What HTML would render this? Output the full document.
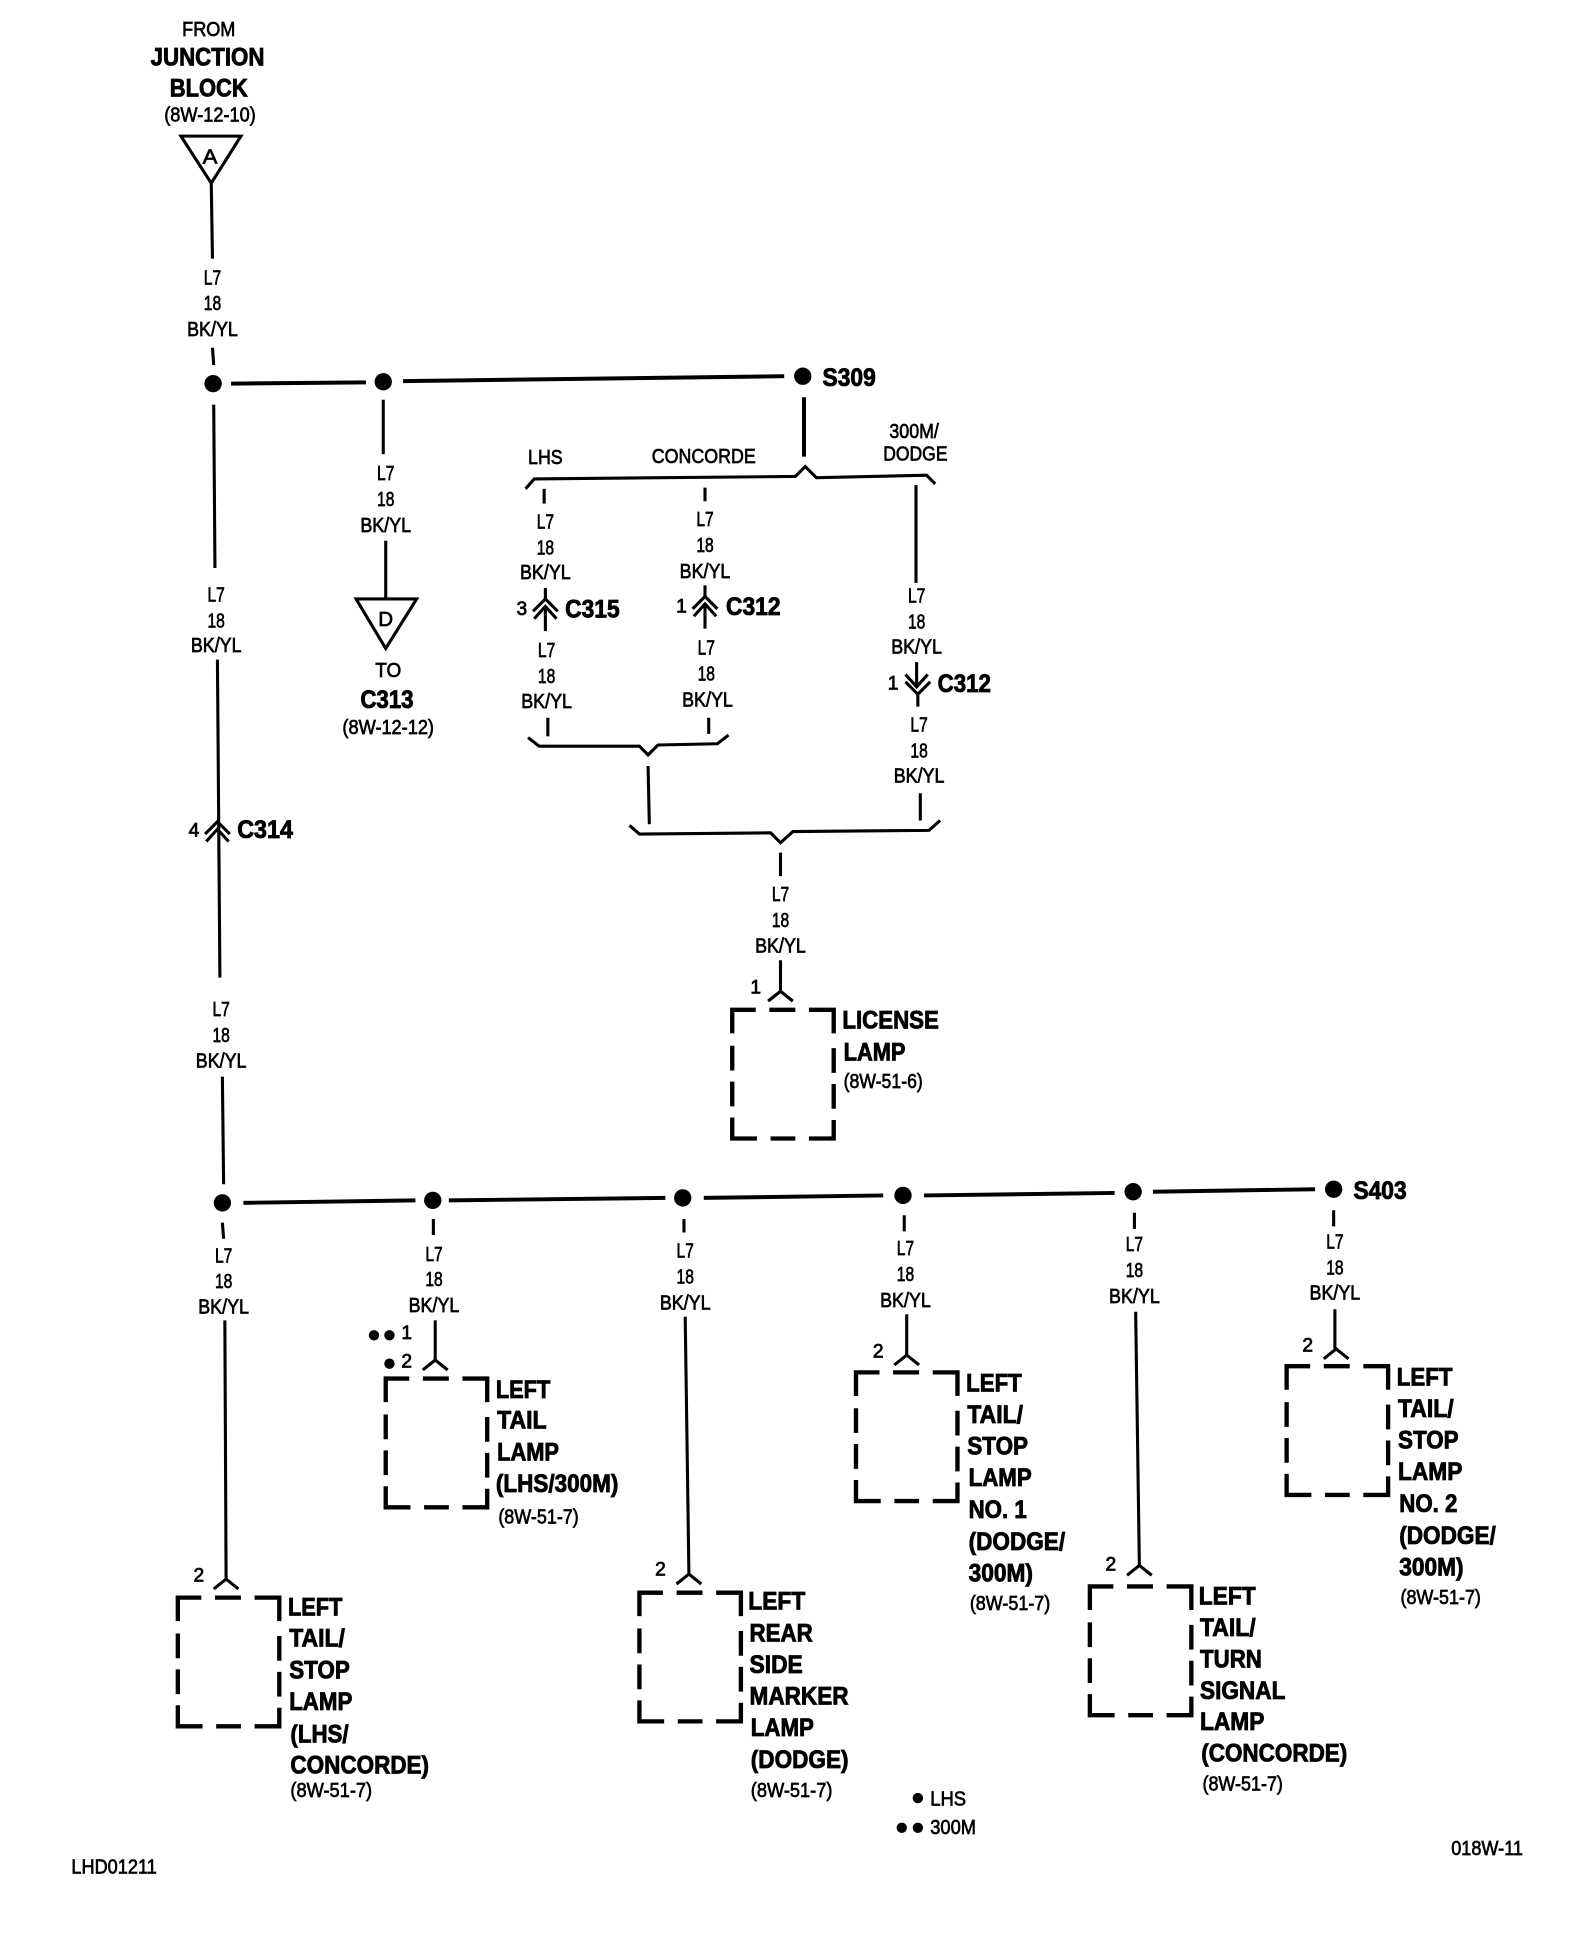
<!DOCTYPE html>
<html><head><meta charset="utf-8"><title>Diagram</title>
<style>
html,body{margin:0;padding:0;background:#fff}
svg{display:block}
text{font-family:"Liberation Sans",sans-serif;fill:#000;stroke:#000}
.r{font-size:16.5px;stroke-width:.55px}
.b{font-size:20.5px;font-weight:bold;stroke-width:.7px}
.n{font-size:15.5px;stroke-width:.6px}
.m{text-anchor:middle}
.w{fill:none;stroke:#000;stroke-width:2.500;stroke-linejoin:miter}
.t{fill:none;stroke:#000;stroke-width:3.200}
.box{fill:none;stroke:#000;stroke-width:3.500}
</style></head><body>
<svg xmlns="http://www.w3.org/2000/svg" width="1584" height="1942" viewBox="0 0 1280 1569.29">
<rect width="1280" height="1570" fill="#fff" stroke="none"/>
<defs>
<path id="bx" class="box" d="M0 19V0H19M30 0H51M62 0H82V19M82 31V51M82 60V80M82 89V104H62M51 104H31M20 104H0V87M0 78V58M0 49V29"/>
<path id="cy" class="w" d="M-10 8L0 0L10 8"/>
</defs>
<g transform="translate(.7,0)">

<!-- top label -->
<text class="r m" x="168" y="29" textLength="43" lengthAdjust="spacingAndGlyphs">FROM</text>
<text class="b m" x="167" y="53" textLength="92" lengthAdjust="spacingAndGlyphs">JUNCTION</text>
<text class="b m" x="168" y="78" textLength="63" lengthAdjust="spacingAndGlyphs">BLOCK</text>
<text class="r m" x="169" y="98" textLength="74" lengthAdjust="spacingAndGlyphs">(8W-12-10)</text>
<path class="w" d="M145.500 110H194L170 148Z"/>
<text class="r m" x="169" y="132" textLength="12" lengthAdjust="spacingAndGlyphs">A</text>
<path class="w" d="M170 148L171 209M171 281L172 295"/>

<!-- top bus -->
<path class="t" d="M186 310L295 309M325 308L633 304"/>
<circle cx="171.500" cy="310" r="7"/><circle cx="309" cy="308.500" r="7"/><circle cx="648" cy="304" r="7"/>
<text class="b" x="664" y="312" textLength="43" lengthAdjust="spacingAndGlyphs">S309</text>

<!-- main vertical -->
<path class="w" d="M172 327L173 459M175 533L177 790M179 870L180 957M309 323V367M311 437V484"/>
<path class="w" d="M165 674L175 664L185 674M166 680L175 670L184 680"/>
<text class="n m" x="156" y="676">4</text>
<text class="b" x="191" y="677" textLength="45" lengthAdjust="spacingAndGlyphs">C314</text>

<!-- D triangle -->
<path class="w" d="M287 484H336L311 524Z"/>
<text class="r m" x="311" y="506" textLength="12" lengthAdjust="spacingAndGlyphs">D</text>
<text class="r m" x="313" y="547" textLength="21" lengthAdjust="spacingAndGlyphs">TO</text>
<text class="b m" x="312" y="572" textLength="43" lengthAdjust="spacingAndGlyphs">C313</text>
<text class="r m" x="313" y="593" textLength="74" lengthAdjust="spacingAndGlyphs">(8W-12-12)</text>

<!-- braces -->
<path class="t" d="M649 321V369"/>
<path class="w" d="M424 395L431 387L642 385L650 377L659 386L748 384L755 391"/>
<text class="r m" x="440" y="375" textLength="28" lengthAdjust="spacingAndGlyphs">LHS</text>
<text class="r m" x="568" y="374" textLength="84" lengthAdjust="spacingAndGlyphs">CONCORDE</text>
<text class="r m" x="738" y="354" textLength="40" lengthAdjust="spacingAndGlyphs">300M/</text>
<text class="r m" x="739" y="372" textLength="52" lengthAdjust="spacingAndGlyphs">DODGE</text>
<path class="w" d="M439 395V407M569 394V405M739.500 392V471"/>

<!-- C315 -->
<path class="w" d="M440 475V484M430 494L440 484L450 494M431 500L440 490L449 500M440 490V510"/>
<text class="n m" x="421" y="497">3</text>
<text class="b" x="456" y="499" textLength="44" lengthAdjust="spacingAndGlyphs">C315</text>
<!-- C312 left -->
<path class="w" d="M569 473V482M559 492L569 482L579 492M560 498L569 488L578 498M569 488V508"/>
<text class="n m" x="550" y="495">1</text>
<text class="b" x="586" y="497" textLength="44" lengthAdjust="spacingAndGlyphs">C312</text>
<!-- C312 right -->
<path class="w" d="M740 535V555M731 545L740 555L749 545M731 551L741 561L751 551M741 561V571"/>
<text class="n m" x="721" y="557">1</text>
<text class="b" x="757" y="559" textLength="43" lengthAdjust="spacingAndGlyphs">C312</text>

<!-- lower braces -->
<path class="w" d="M442 580V595M572 580V593"/>
<path class="w" d="M426 596L435 603L516 603L523 610L531 602L579 601L588 594"/>
<path class="w" d="M523 619L524 666M743 641V663"/>
<path class="w" d="M508 667L516 674L622 673L630 681L640 672L750 671L759 663"/>
<path class="w" d="M630 689V708M630 776V800"/>

<!-- license lamp -->
<use href="#cy" x="630" y="801"/>
<text class="n m" x="610" y="803">1</text>
<use href="#bx" x="591" y="816"/>
<text class="b" x="680" y="831" textLength="78" lengthAdjust="spacingAndGlyphs">LICENSE</text>
<text class="b" x="681" y="857" textLength="50" lengthAdjust="spacingAndGlyphs">LAMP</text>
<text class="r" x="681" y="879" textLength="64" lengthAdjust="spacingAndGlyphs">(8W-51-6)</text>

<!-- bottom bus -->
<path class="t" d="M196 972L335 970M362 970L537 968M568 968L713 966M746 966L900 964M931 963L1062 961"/>
<circle cx="179" cy="972" r="7"/><circle cx="349" cy="970" r="7"/><circle cx="551" cy="968" r="7"/><circle cx="729" cy="966" r="7"/><circle cx="915" cy="963" r="7"/><circle cx="1077" cy="961" r="7"/>
<text class="b" x="1093" y="969" textLength="43" lengthAdjust="spacingAndGlyphs">S403</text>

<path class="w" d="M179 988L180 1001M181 1067L182 1276M349.500 985V998M351 1067V1099M552 985V996M553 1064L556 1272M730 982V995M732 1062V1095M916 980V993M917 1060L920 1265M1077 978V991M1078 1058V1090"/>
<use href="#cy" x="182" y="1276"/><use href="#cy" x="351" y="1099"/><use href="#cy" x="556" y="1272"/><use href="#cy" x="732" y="1095"/><use href="#cy" x="920" y="1265"/><use href="#cy" x="1079" y="1090"/>

<!-- wire labels -->
<text class="r m" x="171" y="230" textLength="14" lengthAdjust="spacingAndGlyphs">L7</text><text class="r m" x="171" y="250.500" textLength="14" lengthAdjust="spacingAndGlyphs">18</text><text class="r m" x="171" y="271.500" textLength="41" lengthAdjust="spacingAndGlyphs">BK/YL</text>
<text class="r m" x="311" y="388" textLength="14" lengthAdjust="spacingAndGlyphs">L7</text><text class="r m" x="311" y="409" textLength="14" lengthAdjust="spacingAndGlyphs">18</text><text class="r m" x="311" y="430" textLength="41" lengthAdjust="spacingAndGlyphs">BK/YL</text>
<text class="r m" x="174" y="486" textLength="14" lengthAdjust="spacingAndGlyphs">L7</text><text class="r m" x="174" y="507" textLength="14" lengthAdjust="spacingAndGlyphs">18</text><text class="r m" x="174" y="527" textLength="41" lengthAdjust="spacingAndGlyphs">BK/YL</text>
<text class="r m" x="440" y="427" textLength="14" lengthAdjust="spacingAndGlyphs">L7</text><text class="r m" x="440" y="448" textLength="14" lengthAdjust="spacingAndGlyphs">18</text><text class="r m" x="440" y="468" textLength="41" lengthAdjust="spacingAndGlyphs">BK/YL</text>
<text class="r m" x="569" y="425" textLength="14" lengthAdjust="spacingAndGlyphs">L7</text><text class="r m" x="569" y="446" textLength="14" lengthAdjust="spacingAndGlyphs">18</text><text class="r m" x="569" y="467" textLength="41" lengthAdjust="spacingAndGlyphs">BK/YL</text>
<text class="r m" x="441" y="531" textLength="14" lengthAdjust="spacingAndGlyphs">L7</text><text class="r m" x="441" y="552" textLength="14" lengthAdjust="spacingAndGlyphs">18</text><text class="r m" x="441" y="572" textLength="41" lengthAdjust="spacingAndGlyphs">BK/YL</text>
<text class="r m" x="570" y="529" textLength="14" lengthAdjust="spacingAndGlyphs">L7</text><text class="r m" x="570" y="550" textLength="14" lengthAdjust="spacingAndGlyphs">18</text><text class="r m" x="571" y="571" textLength="41" lengthAdjust="spacingAndGlyphs">BK/YL</text>
<text class="r m" x="740" y="487" textLength="14" lengthAdjust="spacingAndGlyphs">L7</text><text class="r m" x="740" y="508" textLength="14" lengthAdjust="spacingAndGlyphs">18</text><text class="r m" x="740" y="528" textLength="41" lengthAdjust="spacingAndGlyphs">BK/YL</text>
<text class="r m" x="742" y="591" textLength="14" lengthAdjust="spacingAndGlyphs">L7</text><text class="r m" x="742" y="612" textLength="14" lengthAdjust="spacingAndGlyphs">18</text><text class="r m" x="742" y="632.500" textLength="41" lengthAdjust="spacingAndGlyphs">BK/YL</text>
<text class="r m" x="630" y="728" textLength="14" lengthAdjust="spacingAndGlyphs">L7</text><text class="r m" x="630" y="749" textLength="14" lengthAdjust="spacingAndGlyphs">18</text><text class="r m" x="630" y="769.500" textLength="41" lengthAdjust="spacingAndGlyphs">BK/YL</text>
<text class="r m" x="178" y="821" textLength="14" lengthAdjust="spacingAndGlyphs">L7</text><text class="r m" x="178" y="842" textLength="14" lengthAdjust="spacingAndGlyphs">18</text><text class="r m" x="178" y="862.500" textLength="41" lengthAdjust="spacingAndGlyphs">BK/YL</text>
<text class="r m" x="180" y="1020" textLength="14" lengthAdjust="spacingAndGlyphs">L7</text><text class="r m" x="180" y="1041" textLength="14" lengthAdjust="spacingAndGlyphs">18</text><text class="r m" x="180" y="1061.500" textLength="41" lengthAdjust="spacingAndGlyphs">BK/YL</text>
<text class="r m" x="350" y="1019" textLength="14" lengthAdjust="spacingAndGlyphs">L7</text><text class="r m" x="350" y="1039" textLength="14" lengthAdjust="spacingAndGlyphs">18</text><text class="r m" x="350" y="1060" textLength="41" lengthAdjust="spacingAndGlyphs">BK/YL</text>
<text class="r m" x="553" y="1016" textLength="14" lengthAdjust="spacingAndGlyphs">L7</text><text class="r m" x="553" y="1037" textLength="14" lengthAdjust="spacingAndGlyphs">18</text><text class="r m" x="553" y="1058" textLength="41" lengthAdjust="spacingAndGlyphs">BK/YL</text>
<text class="r m" x="731" y="1014" textLength="14" lengthAdjust="spacingAndGlyphs">L7</text><text class="r m" x="731" y="1035" textLength="14" lengthAdjust="spacingAndGlyphs">18</text><text class="r m" x="731" y="1056" textLength="41" lengthAdjust="spacingAndGlyphs">BK/YL</text>
<text class="r m" x="916" y="1011" textLength="14" lengthAdjust="spacingAndGlyphs">L7</text><text class="r m" x="916" y="1032" textLength="14" lengthAdjust="spacingAndGlyphs">18</text><text class="r m" x="916" y="1053" textLength="41" lengthAdjust="spacingAndGlyphs">BK/YL</text>
<text class="r m" x="1078" y="1009" textLength="14" lengthAdjust="spacingAndGlyphs">L7</text><text class="r m" x="1078" y="1030" textLength="14" lengthAdjust="spacingAndGlyphs">18</text><text class="r m" x="1078" y="1050" textLength="41" lengthAdjust="spacingAndGlyphs">BK/YL</text>

<!-- boxes -->
<use href="#bx" x="143" y="1291"/><use href="#bx" x="311" y="1114"/><use href="#bx" x="516" y="1287"/><use href="#bx" x="691" y="1109"/><use href="#bx" x="880" y="1282"/><use href="#bx" x="1039" y="1104"/>

<!-- pins -->
<text class="n m" x="160" y="1278">2</text>
<circle cx="301.500" cy="1079" r="4.200"/><circle cx="314" cy="1079" r="4.200"/><text class="n m" x="328" y="1082">1</text>
<circle cx="314" cy="1102" r="4.200"/><text class="n m" x="328" y="1105">2</text>
<text class="n m" x="533" y="1273">2</text>
<text class="n m" x="709" y="1097">2</text>
<text class="n m" x="897" y="1269">2</text>
<text class="n m" x="1056" y="1092">2</text>

<!-- left tail stop LHS -->
<text class="b" x="232" y="1305.500" textLength="44" lengthAdjust="spacingAndGlyphs">LEFT</text>
<text class="b" x="233" y="1330.500" textLength="45" lengthAdjust="spacingAndGlyphs">TAIL/</text>
<text class="b" x="233" y="1356.500" textLength="49" lengthAdjust="spacingAndGlyphs">STOP</text>
<text class="b" x="233" y="1382" textLength="51" lengthAdjust="spacingAndGlyphs">LAMP</text>
<text class="b" x="234" y="1408" textLength="47" lengthAdjust="spacingAndGlyphs">(LHS/</text>
<text class="b" x="234" y="1433" textLength="112" lengthAdjust="spacingAndGlyphs">CONCORDE)</text>
<text class="r" x="234" y="1452" textLength="66" lengthAdjust="spacingAndGlyphs">(8W-51-7)</text>

<!-- left tail lamp -->
<text class="b" x="400" y="1129.500" textLength="44" lengthAdjust="spacingAndGlyphs">LEFT</text>
<text class="b" x="401" y="1154.500" textLength="40" lengthAdjust="spacingAndGlyphs">TAIL</text>
<text class="b" x="401" y="1180" textLength="50" lengthAdjust="spacingAndGlyphs">LAMP</text>
<text class="b" x="400" y="1205.500" textLength="99" lengthAdjust="spacingAndGlyphs">(LHS/300M)</text>
<text class="r" x="402" y="1231" textLength="65" lengthAdjust="spacingAndGlyphs">(8W-51-7)</text>

<!-- rear side marker -->
<text class="b" x="604" y="1300.500" textLength="46" lengthAdjust="spacingAndGlyphs">LEFT</text>
<text class="b" x="605" y="1326.500" textLength="51" lengthAdjust="spacingAndGlyphs">REAR</text>
<text class="b" x="605" y="1352" textLength="43" lengthAdjust="spacingAndGlyphs">SIDE</text>
<text class="b" x="605" y="1377.500" textLength="80" lengthAdjust="spacingAndGlyphs">MARKER</text>
<text class="b" x="606" y="1403" textLength="51" lengthAdjust="spacingAndGlyphs">LAMP</text>
<text class="b" x="606" y="1428.500" textLength="79" lengthAdjust="spacingAndGlyphs">(DODGE)</text>
<text class="r" x="606" y="1452" textLength="66" lengthAdjust="spacingAndGlyphs">(8W-51-7)</text>

<!-- no 1 -->
<text class="b" x="780" y="1124.500" textLength="45" lengthAdjust="spacingAndGlyphs">LEFT</text>
<text class="b" x="781" y="1150" textLength="45" lengthAdjust="spacingAndGlyphs">TAIL/</text>
<text class="b" x="781" y="1175.500" textLength="49" lengthAdjust="spacingAndGlyphs">STOP</text>
<text class="b" x="782" y="1201" textLength="51" lengthAdjust="spacingAndGlyphs">LAMP</text>
<text class="b" x="782" y="1226.500" textLength="47" lengthAdjust="spacingAndGlyphs">NO. 1</text>
<text class="b" x="782" y="1252.500" textLength="78" lengthAdjust="spacingAndGlyphs">(DODGE/</text>
<text class="b" x="782" y="1278" textLength="52" lengthAdjust="spacingAndGlyphs">300M)</text>
<text class="r" x="783" y="1301" textLength="65" lengthAdjust="spacingAndGlyphs">(8W-51-7)</text>

<!-- turn signal -->
<text class="b" x="968" y="1296.500" textLength="46" lengthAdjust="spacingAndGlyphs">LEFT</text>
<text class="b" x="969" y="1322" textLength="45" lengthAdjust="spacingAndGlyphs">TAIL/</text>
<text class="b" x="969" y="1347.500" textLength="50" lengthAdjust="spacingAndGlyphs">TURN</text>
<text class="b" x="969" y="1373" textLength="69" lengthAdjust="spacingAndGlyphs">SIGNAL</text>
<text class="b" x="969" y="1398" textLength="52" lengthAdjust="spacingAndGlyphs">LAMP</text>
<text class="b" x="970" y="1423.500" textLength="118" lengthAdjust="spacingAndGlyphs">(CONCORDE)</text>
<text class="r" x="971" y="1447" textLength="65" lengthAdjust="spacingAndGlyphs">(8W-51-7)</text>

<!-- no 2 -->
<text class="b" x="1128" y="1119.500" textLength="45" lengthAdjust="spacingAndGlyphs">LEFT</text>
<text class="b" x="1129" y="1145" textLength="45" lengthAdjust="spacingAndGlyphs">TAIL/</text>
<text class="b" x="1129" y="1170.500" textLength="49" lengthAdjust="spacingAndGlyphs">STOP</text>
<text class="b" x="1129" y="1196" textLength="52" lengthAdjust="spacingAndGlyphs">LAMP</text>
<text class="b" x="1130" y="1222" textLength="47" lengthAdjust="spacingAndGlyphs">NO. 2</text>
<text class="b" x="1130" y="1247.500" textLength="78" lengthAdjust="spacingAndGlyphs">(DODGE/</text>
<text class="b" x="1130" y="1273" textLength="52" lengthAdjust="spacingAndGlyphs">300M)</text>
<text class="r" x="1131" y="1296" textLength="65" lengthAdjust="spacingAndGlyphs">(8W-51-7)</text>

<!-- legend -->
<circle cx="741" cy="1453" r="4.200"/><text class="r" x="751" y="1459" textLength="29" lengthAdjust="spacingAndGlyphs">LHS</text>
<circle cx="728" cy="1477" r="4.200"/><circle cx="741" cy="1477" r="4.200"/><text class="r" x="751" y="1482" textLength="37" lengthAdjust="spacingAndGlyphs">300M</text>
<text class="r" x="1172" y="1499" textLength="58" lengthAdjust="spacingAndGlyphs">018W-11</text>
<text class="r" x="57" y="1514" textLength="69" lengthAdjust="spacingAndGlyphs">LHD01211</text>
</g>
</svg>
</body></html>
